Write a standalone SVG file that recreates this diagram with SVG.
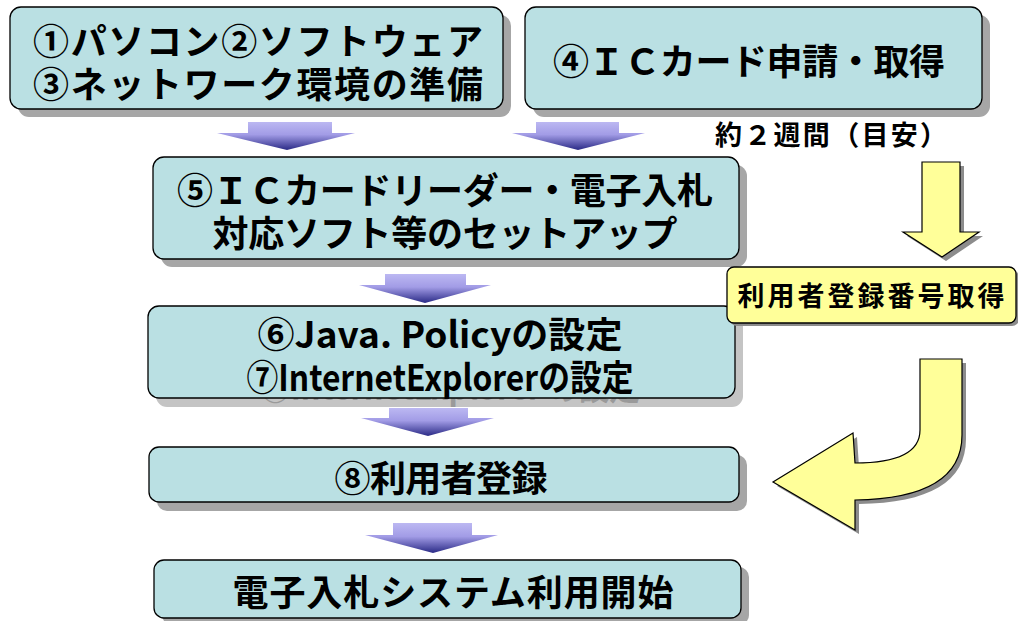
<svg xmlns="http://www.w3.org/2000/svg" width="1018" height="621" viewBox="0 0 1018 621">
<defs>
<linearGradient id="blueGrad" x1="0" y1="0" x2="0" y2="1">
<stop offset="0" stop-color="#bcb8f2"/>
<stop offset="0.45" stop-color="#a29ce6"/>
<stop offset="1" stop-color="#2a2a86"/>
</linearGradient>
<style>
.box{fill:#bae0e3;stroke:#000;stroke-width:1.3}
.shadow{fill:#a6a6a6}
.ybox{fill:#ffff99;stroke:#000;stroke-width:1.3}
.yshadow{fill:#8c8c8c}
.txt{font-family:"Noto Sans CJK JP","Liberation Sans",sans-serif;font-weight:bold;font-size:36px;fill:#000;text-anchor:middle}
.ytxt{font-family:"Noto Sans CJK JP","Liberation Sans",sans-serif;font-weight:bold;font-size:27px;fill:#000;text-anchor:middle}
.ghost{font-family:"Noto Sans CJK JP","Liberation Sans",sans-serif;font-weight:bold;font-size:34px;fill:#9a9a9a;text-anchor:middle}
.barrow{fill:url(#blueGrad)}
.yarrow{fill:#ffff99;stroke:#000;stroke-width:1.2}
</style>
</defs>

<g id="connectors">
<path class="barrow" d="M248,122 L332,122 L332,133 L355,133 L287,150 L217,133 L248,133 Z"/>
<path class="barrow" d="M536,122 L619,122 L619,133 L645,133 L578,150 L512,133 L536,133 Z"/>
<path class="barrow" d="M385,274 L466,274 L466,285 L491,285 L425,303 L359,285 L385,285 Z"/>
<path class="barrow" d="M389,408 L468,408 L468,418 L494,418 L428,436 L361,418 L389,418 Z"/>
<path class="barrow" d="M393,523 L472,523 L472,535 L498,535 L433,553 L365,535 L393,535 Z"/>
<path class="yshadow" transform="translate(4,4)" d="M922,162 L960,162 L960,232 L979,232 L942,257 L903,232 L922,232 Z"/>
<path class="yarrow" d="M922,162 L960,162 L960,232 L979,232 L942,257 L903,232 L922,232 Z"/>
<path class="yshadow" transform="translate(4,4)" d="M920,359 L962,359 L962,435 C962,478 925,499 855,500 L855,530 L773,482 L853,433 L855,463 C898,463 920,452 920,430 Z"/>
<path class="yarrow" d="M920,359 L962,359 L962,435 C962,478 925,499 855,500 L855,530 L773,482 L853,433 L855,463 C898,463 920,452 920,430 Z"/>
</g>

<g id="node1">
<rect class="shadow" x="18" y="15" width="493" height="102" rx="11"/>
<rect class="box" x="10" y="7" width="493" height="102" rx="11"/>
<text class="txt" x="258" y="55" textLength="450" lengthAdjust="spacing">①パソコン②ソフトウェア</text>
<text class="txt" x="258" y="98" textLength="450" lengthAdjust="spacing">③ネットワーク環境の準備</text>
</g>

<g id="node4">
<rect class="shadow" x="533" y="15" width="457" height="102" rx="11"/>
<rect class="box" x="525" y="7" width="457" height="102" rx="11"/>
<text class="txt" x="749" y="75" textLength="392" lengthAdjust="spacing">④ＩＣカード申請・取得</text>
</g>

<g id="note-period">
<text class="ytxt" x="831" y="145" font-size="24" textLength="232" lengthAdjust="spacing">約２週間（目安）</text>
</g>

<g id="node5">
<rect class="shadow" x="161" y="165" width="586" height="102" rx="11"/>
<rect class="box" x="153" y="157" width="586" height="102" rx="11"/>
<text class="txt" x="445" y="204" textLength="536" lengthAdjust="spacing">⑤ＩＣカードリーダー・電子入札</text>
<text class="txt" x="445" y="247" textLength="465" lengthAdjust="spacing">対応ソフト等のセットアップ</text>
</g>

<g id="node67">
<rect x="156" y="314" width="587" height="93" rx="11" fill="#c4c4c4"/>
<text class="ghost" x="450" y="400" textLength="380" lengthAdjust="spacingAndGlyphs">⑦InternetExplorer の設定</text>
<rect class="box" x="148" y="306" width="587" height="92" rx="11"/>
<text class="txt" x="440" y="348" textLength="365" lengthAdjust="spacingAndGlyphs">⑥Java. Policyの設定</text>
<text class="txt" x="440" y="391" textLength="387" lengthAdjust="spacingAndGlyphs">⑦InternetExplorerの設定</text>
</g>

<g id="node-reg-number">
<rect class="yshadow" x="730" y="270" width="289" height="56" rx="7"/>
<rect class="ybox" x="727" y="267" width="289" height="56" rx="7"/>
<text class="ytxt" x="871" y="306" textLength="267" lengthAdjust="spacing">利用者登録番号取得</text>
</g>

<g id="node8">
<rect class="shadow" x="157" y="455" width="590" height="56" rx="10"/>
<rect class="box" x="149" y="447" width="590" height="55" rx="10"/>
<text class="txt" x="441" y="492" textLength="213" lengthAdjust="spacing">⑧利用者登録</text>
</g>

<g id="node-start">
<rect class="shadow" x="162" y="567" width="587" height="58" rx="10"/>
<rect class="box" x="154" y="560" width="587" height="58" rx="10"/>
<text class="txt" x="453" y="606" textLength="441" lengthAdjust="spacing">電子入札システム利用開始</text>
</g>
</svg>
